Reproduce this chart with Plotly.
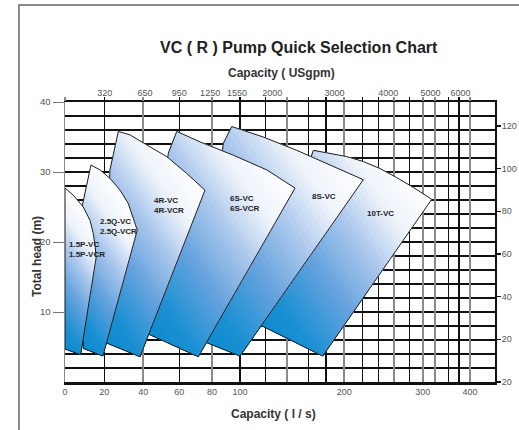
import numpy as np
import plotly.graph_objects as go

# ---------------- data ----------------
BOTTOM_TICKS = [0, 20, 40, 60, 80, 100, 200, 300, 400]          # l/s
TOP_TICKS_GPM = [320, 650, 950, 1250, 1550, 2000, 3000, 4000, 5000, 6000]
HEAD_TICKS = [10, 20, 30, 40]                                     # m
FT_TICKS = [0, 20, 40, 60, 80, 100, 120]                          # ft
FT_LABELS = ["20", "20", "40", "60", "80", "100", "120"]
GRID_BLACK = [20, 60, 100, 120, 160, 180, 220, 240, 280, 350, 375]
GRID_GRAY = [0, 40, 80, 140, 200, 260, 300, 325, 400]

MODELS = ["10T-VC", "8S-VC", "6S-VC<br>6S-VCR", "4R-VC<br>4R-VCR",
          "2.5Q-VC<br>2.5Q-VCR", "1.5P-VC<br>1.5P-VCR"]

# outlines: capacity (l/s) and head (m)
P10T_CAP = [165.7, 184.4, 202.6, 220.8, 242.1, 263.2, 286.0, 317.9, 176.3, 111.7, 163.8]
P10T_HEAD = [33.1, 32.7, 32.2, 31.5, 30.5, 29.2, 27.8, 26.1, 3.7, 8.5, 32.4]
P8S_CAP = [94.1, 118.1, 149.3, 184.4, 220.8, 100.0, 72.7, 88.1]
P8S_HEAD = [36.5, 35.0, 33.1, 31.0, 28.9, 3.7, 6.0, 34.1]
P6S_CAP = [58.6, 72.7, 95.2, 121.0, 147.7, 71.6, 41.5, 53.9]
P6S_HEAD = [35.8, 34.3, 32.4, 30.3, 27.7, 3.6, 7.0, 32.7]
P4R_CAP = [27.2, 33.2, 43.7, 53.0, 64.5, 75.7, 38.3, 20.0, 22.9]
P4R_HEAD = [35.8, 35.3, 33.6, 32.2, 29.8, 27.4, 3.6, 5.7, 30.3]
P25Q_CAP = [13.2, 17.8, 22.9, 28.1, 32.3, 34.9, 36.9, 19.3, 9.3, 8.9]
P25Q_HEAD = [31.0, 30.3, 29.1, 27.4, 25.5, 23.2, 21.7, 3.7, 4.8, 25.3]
P15P_CAP = [0.0, 4.2, 9.3, 12.7, 14.4, 15.4, 15.8, 8.0, 0.0]
P15P_HEAD = [27.7, 26.7, 25.0, 23.1, 21.2, 19.3, 17.7, 3.9, 4.7]

# ---------------- layout / scale ----------------
W, H = 519, 430
ML, MR, MT, MB = 65, 24, 102, 48
PW, PH = W - ML - MR, H - MT - MB
# the chart's capacity axis is a hand-drawn non-uniform scale: knots of that scale
SCALE_CAP = [0, 20, 40, 60, 80, 100, 120, 140, 160, 180, 200, 220, 240, 260, 280,
             300, 325, 350, 375, 400, 450]
SCALE_POS = [0, 39.3, 78.3, 114.3, 147, 175, 200.7, 221.7, 243.3, 261, 279.3,
             297.7, 313.3, 329.3, 344.3, 357.7, 370.3, 383.3, 394, 405, 430]
HEAD_MAX = 40.0
PX_PER_M = PH / HEAD_MAX
GPM_TO_LPS = 0.0630902
M_TO_FT = 1 / 0.3048

FONT = "Liberation Sans, Arial, sans-serif"


def xs(cap):
    return np.interp(np.asarray(cap, dtype=float), SCALE_CAP, SCALE_POS)


def px_x(px):
    return (px - ML) / PW


def px_y(py):
    return (H - MB - py) / PH


GRAD = [(0.0, (10, 138, 207)), (0.15, (28, 144, 211)), (0.38, (100, 162, 222)),
        (0.6, (168, 198, 236)), (0.8, (238, 243, 251)), (1.0, (255, 255, 255))]


def grad_color(t):
    t = min(max(t, 0), 1)
    for (a, ca), (b, cb) in zip(GRAD[:-1], GRAD[1:]):
        if t <= b:
            f = (t - a) / (b - a) if b > a else 0
            c = [round(ca[i] + f * (cb[i] - ca[i])) for i in range(3)]
            return "rgb(%d,%d,%d)" % tuple(c)
    return "rgb(255,255,255)"


def clip(pts, nx, ny, c):
    out = []
    n = len(pts)
    for i in range(n):
        x1, y1 = pts[i]
        x2, y2 = pts[(i + 1) % n]
        d1 = nx * x1 + ny * y1 - c
        d2 = nx * x2 + ny * y2 - c
        if d1 <= 0:
            out.append((x1, y1))
        if (d1 <= 0) != (d2 <= 0):
            t = d1 / (d1 - d2)
            out.append((x1 + t * (x2 - x1), y1 + t * (y2 - y1)))
    return out


fig = go.Figure()

OUTLINES = [(P10T_CAP, P10T_HEAD), (P8S_CAP, P8S_HEAD), (P6S_CAP, P6S_HEAD),
            (P4R_CAP, P4R_HEAD), (P25Q_CAP, P25Q_HEAD), (P15P_CAP, P15P_HEAD)]
THETA = np.radians(35)
NX, NY = np.cos(THETA), np.sin(THETA)
NLEV = 40

for cap, head in OUTLINES:
    X = xs(cap)
    Y = np.asarray(head) * PX_PER_M
    pts = list(zip(X, Y))
    proj = [NX * x + NY * y for x, y in pts]
    pmin, pmax = min(proj), max(proj)
    for k in range(NLEV):
        t = 1 - k / NLEV
        poly = clip(pts, NX, NY, pmin + t * (pmax - pmin))
        if len(poly) < 3:
            continue
        fig.add_trace(go.Scatter(
            x=[p[0] for p in poly], y=[p[1] / PX_PER_M for p in poly],
            mode="lines", fill="toself", fillcolor=grad_color(t - 0.5 / NLEV),
            line=dict(width=0), hoverinfo="skip", showlegend=False))
    fig.add_trace(go.Scatter(
        x=list(X) + [X[0]], y=list(head) + [head[0]], mode="lines",
        line=dict(color="#1c1c1c", width=1), hoverinfo="skip", showlegend=False))

# label placement (capacity, head) inside each region
LABEL_CAP = [222.9, 161.9, 91.4, 44.8, 16.9, 1.0]
LABEL_HEAD = [24.1, 26.5, 25.5, 25.2, 22.2, 19.0]
for txt, c, h in zip(MODELS, LABEL_CAP, LABEL_HEAD):
    fig.add_annotation(x=float(xs(c)), y=h, xref="x", yref="y", text="<b>%s</b>" % txt,
                       showarrow=False, xanchor="left", yanchor="middle", align="left",
                       font=dict(family=FONT, size=8, color="#222"))

# dummy traces so every overlay axis is instantiated
for xa, ya in [("x2", "y"), ("x3", "y"), ("x4", "y"), ("x", "y2")]:
    fig.add_trace(go.Scatter(x=[None], y=[None], xaxis=xa, yaxis=ya,
                             showlegend=False, hoverinfo="skip"))

RANGE_X = [0, SCALE_POS[-1]]
tickfont = dict(family=FONT, size=9, color="#555")

fig.update_layout(
    template="none",
    width=W, height=H, autosize=False,
    margin=dict(l=ML, r=MR, t=MT, b=MB, pad=0),
    paper_bgcolor="white", plot_bgcolor="white",
    showlegend=False, hovermode=False,
    xaxis=dict(range=RANGE_X, tickmode="array", tickvals=list(xs(BOTTOM_TICKS)),
               ticktext=[str(v) for v in BOTTOM_TICKS], ticks="", showgrid=False,
               zeroline=False, showline=True, linecolor="#111", linewidth=2.5,
               tickfont=tickfont, fixedrange=True, automargin=False),
    xaxis2=dict(range=RANGE_X, overlaying="x", side="top", tickmode="array",
                tickvals=list(xs(np.array(TOP_TICKS_GPM) * GPM_TO_LPS)),
                ticktext=[str(v) for v in TOP_TICKS_GPM], ticks="", showgrid=False,
                zeroline=False, showline=True, linecolor="#111", linewidth=2.5,
                tickfont=tickfont, fixedrange=True, automargin=False),
    xaxis3=dict(range=RANGE_X, overlaying="x", side="top", tickmode="array",
                tickvals=list(xs(GRID_BLACK)), showticklabels=False,
                ticks="outside", ticklen=4, tickcolor="#111", tickwidth=1.5,
                showgrid=True, gridcolor="#111", gridwidth=1.5, zeroline=False,
                showline=False, fixedrange=True, automargin=False),
    xaxis4=dict(range=RANGE_X, overlaying="x", side="top", tickmode="array",
                tickvals=list(xs(GRID_GRAY)), showticklabels=False,
                ticks="outside", ticklen=4, tickcolor="#888", tickwidth=2,
                showgrid=True, gridcolor="#8a8a8a", gridwidth=2, zeroline=False,
                showline=False, fixedrange=True, automargin=False),
    yaxis=dict(range=[0, HEAD_MAX], tickmode="array", tickvals=HEAD_TICKS,
               ticks="outside", ticklen=11, tickcolor="#777", tickwidth=1,
               showgrid=True, gridcolor="#111", gridwidth=2.5,
               minor=dict(tickmode="linear", tick0=0, dtick=2, showgrid=True,
                          gridcolor="#111", gridwidth=2.5, ticks=""),
               zeroline=False, showline=True, linecolor="#888", linewidth=1.5,
               tickfont=dict(family=FONT, size=9.5, color="#555"), fixedrange=True,
               automargin=False),
    yaxis2=dict(range=[0, HEAD_MAX * M_TO_FT], overlaying="y", side="right",
                tickmode="array", tickvals=FT_TICKS, ticktext=FT_LABELS,
                ticks="outside", ticklen=4, tickcolor="#111", tickwidth=1.5,
                ticklabelstandoff=-1,
                showgrid=False, zeroline=False, showline=True, linecolor="#111",
                linewidth=2, tickfont=tickfont, fixedrange=True, automargin=False),
)

# titles
fig.add_annotation(text="<b>VC ( R ) Pump Quick Selection Chart</b>", xref="paper", yref="paper",
                   x=px_x(299), y=px_y(47), showarrow=False, xanchor="center", yanchor="middle",
                   font=dict(family=FONT, size=16, color="#222"))
fig.add_annotation(text="<b>Capacity ( USgpm)</b>", xref="paper", yref="paper",
                   x=px_x(281), y=px_y(73), showarrow=False, xanchor="center", yanchor="middle",
                   font=dict(family=FONT, size=12, color="#333"))
fig.add_annotation(text="<b>Capacity ( l / s)</b>", xref="paper", yref="paper",
                   x=px_x(273), y=px_y(414), showarrow=False, xanchor="center", yanchor="middle",
                   font=dict(family=FONT, size=12, color="#333"))
fig.add_annotation(text="<b>Total head (m)</b>", xref="paper", yref="paper", textangle=-90,
                   x=px_x(37), y=px_y(257), showarrow=False, xanchor="center", yanchor="middle",
                   font=dict(family=FONT, size=12, color="#333"))

# outer frame
fig.add_shape(type="rect", xref="paper", yref="paper", x0=px_x(19), y0=px_y(H + 20),
              x1=px_x(W + 20), y1=px_y(5), line=dict(color="#666", width=1.5),
              fillcolor="rgba(0,0,0,0)", layer="below")

fig.write_html("out.html", config={"displayModeBar": False, "staticPlot": True},
               post_script="document.body.style.margin='0';document.body.style.padding='0';")
